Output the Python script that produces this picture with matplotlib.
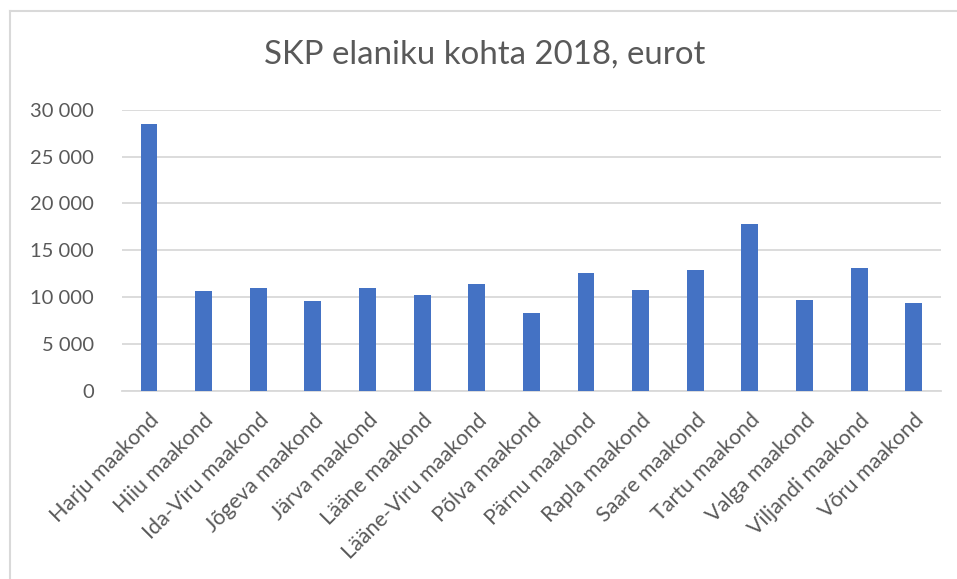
import matplotlib
matplotlib.use("Agg")
import matplotlib.pyplot as plt
from matplotlib.lines import Line2D
from matplotlib.ticker import FuncFormatter

counties = [
    "Harju maakond", "Hiiu maakond", "Ida-Viru maakond", "Jõgeva maakond",
    "Järva maakond", "Lääne maakond", "Lääne-Viru maakond", "Põlva maakond",
    "Pärnu maakond", "Rapla maakond", "Saare maakond", "Tartu maakond",
    "Valga maakond", "Viljandi maakond", "Võru maakond",
]
gdp_per_capita = [
    28440, 10640, 10960, 9540, 10930, 10220, 11390, 8330,
    12530, 10720, 12890, 17800, 9650, 13100, 9360,
]
y_ticks = [0, 5000, 10000, 15000, 20000, 25000, 30000]

TEXT = "#595959"
GRID = "#D9D9D9"
BAR = "#4472C4"

plt.rcParams["font.family"] = ["Lato", "DejaVu Sans"]

W, H = 957, 579
fig = plt.figure(figsize=(W / 100, H / 100), dpi=100)
ax = fig.add_axes([121.7 / W, 1 - 390.7 / H, (941 - 121.7) / W, (390.7 - 109.7) / H])

x = range(len(counties))
ax.bar(x, gdp_per_capita, width=0.31, color=BAR, zorder=3)

ax.set_xlim(-0.5, len(counties) - 0.5)
ax.set_ylim(0, 30000)
ax.set_yticks(y_ticks)
ax.yaxis.set_major_formatter(FuncFormatter(lambda v, _: f"{v:,.0f}".replace(",", " ")))
ax.grid(axis="y", color=GRID, linewidth=1.3, zorder=0)

ax.set_xticks(list(x))
ax.set_xticklabels(counties, rotation=45, ha="right", rotation_mode="anchor")
ax.tick_params(axis="both", length=0, labelcolor=TEXT)
ax.tick_params(axis="y", pad=20, labelsize=14.5)
ax.tick_params(axis="x", pad=14, labelsize=15.5)

for side in ["top", "right", "left"]:
    ax.spines[side].set_visible(False)
ax.spines["bottom"].set_color(GRID)
ax.spines["bottom"].set_linewidth(1.3)

fig.text(485 / W, 1 - 55 / H, "SKP elaniku kohta 2018, eurot",
         ha="center", va="center", fontsize=23.8, color=TEXT)

# chart frame, cut off at the right and bottom like the screenshot
bx, by = 10 / W, 1 - 11 / H
fig.add_artist(Line2D([bx, 1], [by, by], color=GRID, linewidth=1.5))
fig.add_artist(Line2D([bx, bx], [0, by], color=GRID, linewidth=1.5))

fig.savefig("out.png", dpi=100)
